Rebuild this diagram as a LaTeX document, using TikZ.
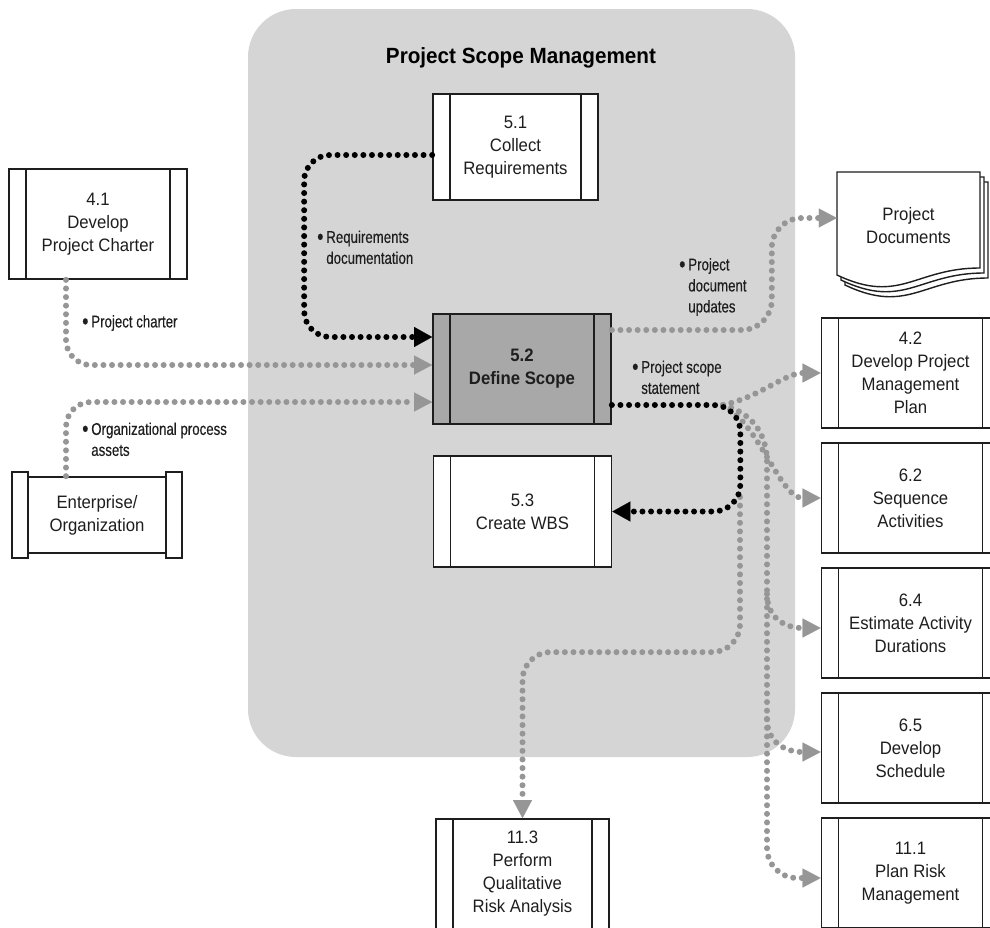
\documentclass[tikz,border=0pt]{standalone}
\usepackage{fontspec}
\setmainfont{Liberation Sans}
\newfontfamily\boxfont{Liberation Sans}[FakeStretch=0.93]
\newfontfamily\labfont{Liberation Sans}[FakeStretch=0.78,FakeBold=0.3]
\newfontfamily\headfont{Liberation Sans}[FakeStretch=0.94]
\usetikzlibrary{arrows.meta,calc}

\definecolor{panelgray}{RGB}{213,213,213}
\definecolor{activegray}{RGB}{168,168,168}
\definecolor{dotgray}{RGB}{150,150,150}
\definecolor{inkline}{RGB}{30,30,30}

\newcommand{\flowbullet}{\raisebox{-1.6pt}{\scalebox{1.35}{\textbullet}}\,}
\newcommand{\flowindent}{\phantom{\flowbullet}}

\tikzset{
  procbox/.style={draw=inkline, line width=1.7pt, fill=white,
    minimum width=178pt, minimum height=110pt, inner sep=0pt, align=center,
    font=\boxfont\fontsize{18}{23}\selectfont, text=inkline,
    path picture={
      \draw[inkline, line width=1.7pt]
        ([xshift=17pt]path picture bounding box.north west) -- ([xshift=17pt]path picture bounding box.south west)
        ([xshift=-17pt]path picture bounding box.north east) -- ([xshift=-17pt]path picture bounding box.south east);
    }},
  entbox/.style={draw=inkline, line width=1.7pt, fill=white, inner sep=0pt,
    align=center, font=\boxfont\fontsize{18}{23}\selectfont, text=inkline},
  flowlabel/.style={anchor=west, inner sep=0pt, align=left,
    font=\labfont\fontsize{17}{21}\selectfont, text=inkline},
  dotflow/.style={line width=6pt, line cap=round, dash pattern=on 0pt off 8.6pt},
  blackflow/.style={dotflow, draw=black, -{Triangle[length=18pt,width=20pt,line width=0.1pt]}},
  grayflow/.style={dotflow, draw=dotgray, -{Triangle[length=18pt,width=19pt,line width=0.1pt]}},
  pagesheet/.style={draw=inkline, line width=1.4pt, fill=white},
}

\begin{document}
\begin{tikzpicture}[x=1pt, y=-1pt]
\useasboundingbox (0,0) rectangle (990,927);
\fill[white] (0,0) rectangle (990,927);

% knowledge area panel
\fill[panelgray, rounded corners=48pt] (248,9) rectangle (795,757);
\node[font=\headfont\bfseries\fontsize{22}{26}\selectfont, text=black] (title) at (521,58) {Project Scope Management};

% processes inside the panel
\node[procbox, minimum width=165pt, minimum height=106pt] (c51) at (515.5,147) {5.1\\Collect\\Requirements};
\node[procbox, fill=activegray, font=\boxfont\bfseries\fontsize{18}{23}\selectfont] (c52) at (522,369) {5.2\\Define Scope};
\node[procbox, minimum height=111pt] (c53) at (522.5,511.5) {5.3\\Create WBS};

% inputs on the left
\node[procbox] (c41) at (98,224) {4.1\\Develop\\Project Charter};
\node[entbox, minimum width=16pt, minimum height=86pt] (entL) at (20,515) {};
\node[entbox, minimum width=16pt, minimum height=86pt] (entR) at (174,515) {};
\node[entbox, minimum width=138pt, minimum height=76pt] (ent) at (97,515) {Enterprise/\\Organization};

% project documents stack
\foreach \dx/\dy in {8/10, 4/5, 0/0} {
  \draw[pagesheet] (837+\dx,172+\dy) -- (980+\dx,172+\dy) -- (980+\dx,268+\dy)
    .. controls (915+\dx,268+\dy) and (900+\dx,305+\dy) .. (837+\dx,275+\dy) -- cycle;
}
\node[inner sep=0pt, minimum width=143pt, minimum height=103pt, align=center,
  font=\boxfont\fontsize{18}{23}\selectfont, text=inkline] (docs) at (908.5,226) {Project\\Documents};

% outputs on the right and below
\node[procbox] (c42) at (910.5,373) {4.2\\Develop Project\\Management\\Plan};
\node[procbox] (c62) at (910.5,498) {6.2\\Sequence\\Activities};
\node[procbox] (c64) at (910.5,623) {6.4\\Estimate Activity\\Durations};
\node[procbox] (c65) at (910.5,748) {6.5\\Develop\\Schedule};
\node[procbox] (c111) at (910.5,873) {11.1\\Plan Risk\\Management};
\node[procbox, minimum width=173pt] (c113) at (522.5,874) {11.3\\Perform\\Qualitative\\Risk Analysis};

% branch points of the scope statement flow
\coordinate (J) at (723,405);
\coordinate (K) at (740,497);
\coordinate (b64) at (767,594);
\coordinate (b65) at (767,719);

% gray data flows
\draw[grayflow, rounded corners=25pt] ($(c41.south)+(-32,0)$) |- ($(c52.west)+(0,-4)$);
\draw[grayflow, rounded corners=25pt] ($(ent.north)+(-31,0)$) |- ($(c52.west)+(0,33)$);
\draw[grayflow, rounded corners=30pt] ($(c52.east)+(0,-39)$) -| ($(docs.west)+(-65,-8)$) -- ($(docs.west)+(0,-8)$);
\draw[grayflow] (J) .. controls (760,397) and (785,373) .. (c42.west);
\draw[grayflow] (J) .. controls (760,425) and (780,498) .. (c62.west);
\draw[grayflow] (J) .. controls (750,412) and (767,432) .. (767,462) [rounded corners=30pt] |- ($(c111.west)+(0,5)$);
\draw[grayflow] (b64) .. controls (767,618) and (785,628) .. ($(c64.west)+(0,5)$);
\draw[grayflow] (b65) .. controls (767,742) and (785,752) .. ($(c65.west)+(0,4)$);
\draw[grayflow, rounded corners=28pt] (K) |- ($(c113.north)+(0,-166)$) -- (c113.north);

% black data flows
\draw[blackflow, rounded corners=26pt] ($(c51.west)+(0,8)$) -| ($(c52.west)+(-128,-32)$) -- ($(c52.west)+(0,-32)$);
\draw[blackflow, rounded corners=27pt] ($(c52.east)+(0,36)$) -| ($(c53.east)+(128,0)$) -- (c53.east);

% flow labels
\node[flowlabel] (lreq) at (317,248) {\flowbullet Requirements\\\flowindent documentation};
\node[flowlabel] (lchar) at (82,323) {\flowbullet Project charter};
\node[flowlabel] (lorg) at (82,440) {\flowbullet Organizational process\\\flowindent assets};
\node[flowlabel] (ldoc) at (679,287) {\flowbullet Project\\\flowindent document\\\flowindent updates};
\node[flowlabel] (lscope) at (632,378) {\flowbullet Project scope\\\flowindent statement};
\end{tikzpicture}
\end{document}
